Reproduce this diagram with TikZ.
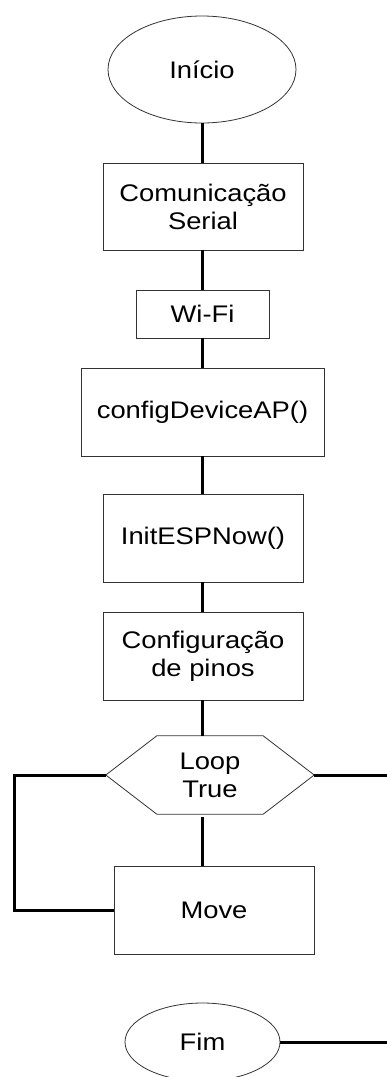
\documentclass[tikz,border=0pt]{standalone}
\usepackage{fontspec}
\setmainfont{Liberation Sans}[FakeStretch=1.14]
\usetikzlibrary{shapes.geometric}
\begin{document}
\begin{tikzpicture}[x=1pt,y=-1pt,
  every node/.style={font=\fontsize{24}{28}\selectfont, align=center, inner sep=0pt},
  terminal/.style={ellipse, draw=black!80, line width=0.8pt},
  procbox/.style={rectangle, draw=black!80, line width=0.8pt},
  link/.style={line width=3pt, black}]
\useasboundingbox (0,0) rectangle (387,1077);
% flow nodes
\node[terminal, minimum width=188pt, minimum height=107pt] (start) at (202,69.5) {Início};
\node[procbox, minimum width=200pt, minimum height=87pt] (serial) at (203,206.5) {Comunicação\\Serial};
\node[procbox, minimum width=133pt, minimum height=48pt] (wifi) at (202.5,314) {Wi-Fi};
\node[procbox, minimum width=243pt, minimum height=88pt] (cfgap) at (202.5,412) {configDeviceAP()};
\node[procbox, minimum width=200pt, minimum height=88pt] (espnow) at (203,538) {InitESPNow()};
\node[procbox, minimum width=200pt, minimum height=88pt] (pins) at (203,656) {Configuração\\de pinos};
\node[minimum width=208pt, minimum height=78pt] (loop) at (210,775) {Loop\\True};
\draw[black!80, line width=0.8pt] (loop.west) -- ([xshift=51pt]loop.north west) -- ([xshift=-51pt]loop.north east)
  -- (loop.east) -- ([xshift=-51pt]loop.south east) -- ([xshift=51pt]loop.south west) -- cycle;
\node[procbox, minimum width=200pt, minimum height=88pt] (move) at (214,910) {Move};
\node[terminal, minimum width=155pt, minimum height=78pt] (fim) at (202.5,1042) {Fim};
% connectors
\coordinate (lx) at (14,775);
\coordinate (rx) at (387,775);
\draw[link] (start.south) -- (start.south |- serial.north);
\draw[link] (start.south |- serial.south) -- (start.south |- wifi.north);
\draw[link] (start.south |- wifi.south) -- (start.south |- cfgap.north);
\draw[link] (start.south |- cfgap.south) -- (start.south |- espnow.north);
\draw[link] (start.south |- espnow.south) -- (start.south |- pins.north);
\draw[link] (start.south |- pins.south) -- (start.south |- loop.north);
\draw[link] ([yshift=-3pt]start.south |- loop.south) -- (start.south |- move.north);
\draw[link] (loop.west) -- (loop.west -| lx) |- (move.west);
\draw[link] (loop.east) -- (loop.east -| rx);
\draw[link] (fim.east) -- (fim.east -| rx);
\end{tikzpicture}
\end{document}
